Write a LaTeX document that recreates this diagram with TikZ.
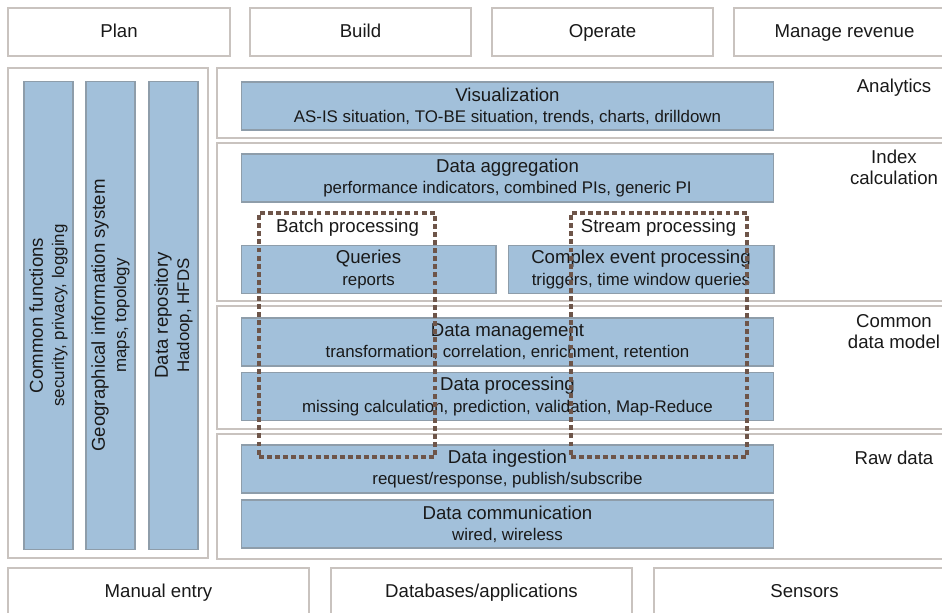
\documentclass[tikz,border=0pt]{standalone}
\usepackage{fontspec}
\setmainfont{Liberation Sans}
\usepackage{tikz}

\definecolor{boxblue}{HTML}{A2C0DA}
\definecolor{blueedge}{HTML}{8E9DAA}
\definecolor{paneledge}{HTML}{C9C3BF}
\definecolor{dashbrown}{HTML}{6E5549}

\newcommand{\subline}[1]{{\fontsize{9.6pt}{12pt}\selectfont #1}}

\begin{document}
\begin{tikzpicture}[
            x=0.02cm, y=-0.02cm,
            txt/.style={font=\fontsize{10.6pt}{12pt}\selectfont, text=black!90, align=center},
            oneline/.style={txt, text height=1.6ex, text depth=0.4ex},
            whitebox/.style={rectangle, draw=paneledge, line width=0.8pt, fill=white, outer sep=0pt, inner sep=0pt, oneline},
            panel/.style={rectangle, draw=paneledge, line width=0.8pt, outer sep=0pt, inner sep=0pt},
            bluebox/.style={rectangle, draw=blueedge, line width=0.6pt, fill=boxblue, outer sep=0pt, inner sep=0pt, minimum height=0.96cm, txt},
            bar/.style={bluebox, minimum width=9.38cm, minimum height=0.98cm, rotate=90},
            dashframe/.style={rectangle, draw=dashbrown, line width=1.8pt, dash pattern=on 2.8pt off 1.8pt, minimum width=3.52cm, minimum height=4.88cm},
            sidelabel/.style={txt}
          ]
          \useasboundingbox (0,0) rectangle (942,612);
          \clip (0,0) rectangle (942,612);

          %Top row
          \node[whitebox, minimum width=4.44cm, minimum height=0.96cm] at (119,32) (plan) {Plan};
          \node[whitebox, minimum width=4.42cm, minimum height=0.96cm] at (360.5,32) (build) {Build};
          \node[whitebox, minimum width=4.42cm, minimum height=0.96cm] at (602.5,32) (operate) {Operate};
          \node[whitebox, minimum width=4.42cm, minimum height=0.96cm] at (844.5,32) (revenue) {Manage revenue};

          %Bottom row
          \node[whitebox, minimum width=6.02cm, minimum height=0.96cm] at (158.5,592) (manual) {Manual entry};
          \node[whitebox, minimum width=6.02cm, minimum height=0.96cm] at (481.5,592) (dbapps) {Databases/applications};
          \node[whitebox, minimum width=6.02cm, minimum height=0.96cm] at (804.5,592) (sensors) {Sensors};

          %Panels
          \node[panel, minimum width=4cm, minimum height=9.8cm] at (108,313) (left) {};
          \node[panel, minimum width=14.76cm, minimum height=1.4cm] at (586,103) (analytics) {};
          \node[panel, minimum width=14.76cm, minimum height=3.16cm] at (586,222) (index) {};
          \node[panel, minimum width=14.76cm, minimum height=2.46cm] at (586,367.5) (common) {};
          \node[panel, minimum width=14.76cm, minimum height=2.5cm] at (586,496.5) (raw) {};

          %Vertical bars
          \node[bar] at (48.5,315.5) (functions) {Common functions\\\subline{security, privacy, logging}};
          \node[bar] at (110.5,315.5) (gis) {Geographical information system\\\subline{maps, topology}};
          \node[bar] at (173.5,315.5) (repo) {Data repository\\\subline{Hadoop, HFDS}};

          %Layer boxes
          \node[bluebox, minimum width=10.66cm] at (507.5,106) (vis) {Visualization\\\subline{AS-IS situation, TO-BE situation, trends, charts, drilldown}};
          \node[bluebox, minimum width=10.66cm] at (507.5,178) (aggr) {Data aggregation\\\subline{performance indicators, combined PIs, generic PI}};
          \node[bluebox, minimum width=5.1cm] at (368.5,269.5) (queries) {Queries\\\subline{reports}};
          \node[bluebox, minimum width=5.32cm] at (641,269.5) (cep) {Complex event processing\\\subline{triggers, time window queries}};
          \node[bluebox, minimum width=10.66cm] at (507.5,342) (mgmt) {Data management\\\subline{transformation, correlation, enrichment, retention}};
          \node[bluebox, minimum width=10.66cm] at (507.5,396.5) (proc) {Data processing\\\subline{missing calculation, prediction, validation, Map-Reduce}};
          \node[bluebox, minimum width=10.66cm] at (507.5,469) (ingest) {Data ingestion\\\subline{request/response, publish/subscribe}};
          \node[bluebox, minimum width=10.66cm] at (507.5,524) (comm) {Data communication\\\subline{wired, wireless}};

          %Processing frames
          \node[dashframe] at (347,335) (batch) {};
          \node[dashframe] at (659,335) (stream) {};
          \node[oneline] at (347.5,227) (batchlabel) {Batch processing};
          \node[oneline] at (658.5,227) (streamlabel) {Stream processing};

          %Labels
          \node[sidelabel] at (894,88) (analyticslabel) {Analytics};
          \node[sidelabel] at (894,167) (indexlabel) {Index\\calculation};
          \node[sidelabel] at (894,332) (commonlabel) {Common\\data model};
          \node[sidelabel] at (894,458) (rawlabel) {Raw data};

        \end{tikzpicture}
\end{document}
